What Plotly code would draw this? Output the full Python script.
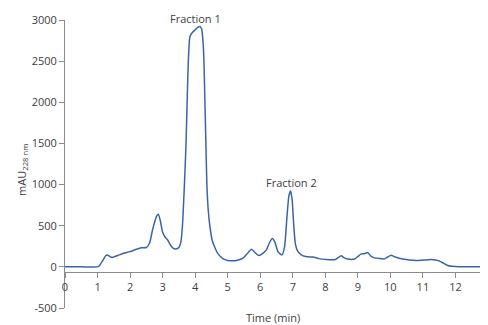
import plotly.graph_objects as go

time_min = [0, 0.5, 1.0, 1.05, 1.15, 1.25, 1.30, 1.38, 1.45, 1.6, 1.8, 2.0, 2.2, 2.35, 2.5,
            2.6, 2.68, 2.75, 2.82, 2.87, 2.93, 3.0, 3.08, 3.15, 3.25, 3.33, 3.40,
            3.50, 3.56, 3.61, 3.67, 3.72, 3.76, 3.79, 3.84, 3.92, 4.0, 4.08, 4.15, 4.20,
            4.24, 4.27, 4.30, 4.33, 4.36, 4.40, 4.45, 4.52, 4.59, 4.70, 4.85, 5.0, 5.15,
            5.3, 5.47, 5.6, 5.73, 5.85, 5.96, 6.08, 6.19, 6.28, 6.37, 6.45, 6.55, 6.67,
            6.75, 6.82, 6.88, 6.93, 6.98, 7.03, 7.08, 7.15, 7.25, 7.4, 7.55, 7.62, 7.8,
            8.03, 8.31, 8.4, 8.49, 8.58, 8.69, 8.9, 9.0, 9.1, 9.2, 9.3, 9.4, 9.51, 9.82,
            9.92, 10.02, 10.15, 10.38, 10.79, 11.05, 11.25, 11.5, 11.65, 11.76, 11.9,
            12.0, 12.2, 12.6, 13.0]
mau = [0, 0, 0, 10, 70, 135, 145, 125, 115, 135, 165, 185, 215, 232, 235,
       290, 430, 540, 620, 640, 560, 420, 360, 330, 260, 225, 218,
       235, 300, 500, 1000, 1500, 2100, 2500, 2800, 2850, 2880, 2910, 2920, 2890,
       2750, 2500, 2000, 1500, 1000, 700, 500, 330, 250, 160, 100, 78, 73,
       80, 105, 160, 215, 170, 137, 165, 206, 290, 344, 300, 180, 146,
       250, 600, 860, 923, 820, 500, 280, 190, 150, 125, 120, 120, 100,
       89, 89, 115, 134, 110, 95, 95, 125, 158, 160, 174, 130, 109, 97,
       120, 142, 120, 95, 77, 82, 89, 73, 40, 16, 6,
       3, 0, 0, 0]

x_ticks = list(range(0, 14))
y_ticks = [-500, 0, 500, 1000, 1500, 2000, 2500, 3000]

font_fam = "Open Sans, Lato, sans-serif"
txt_col = "#404040"
axis_col = "#8c8c8c"

fig = go.Figure()
fig.add_trace(go.Scatter(
    x=time_min, y=mau, mode="lines",
    line=dict(color="#3A64A8", width=1.5, shape="spline", smoothing=0.5),
    showlegend=False, hoverinfo="skip"))

# page body has an 8px default margin, so the figure is sized/positioned to compensate
fig.update_layout(
    width=480, height=317,
    margin=dict(l=57, r=0, t=12, b=17, autoexpand=False),
    paper_bgcolor="white", plot_bgcolor="white",
    font=dict(family=font_fam, size=11, color=txt_col),
    xaxis=dict(range=[0, 13], tickvals=x_ticks, ticktext=[str(v) for v in x_ticks],
               showgrid=False, zeroline=False, showline=True, linecolor=axis_col,
               linewidth=1, ticks="outside", ticklen=5, tickcolor=axis_col,
               anchor="free", position=(-57 + 500) / 3500, automargin=False,
               tickfont=dict(size=11, color=txt_col)),
    yaxis=dict(range=[-500, 3000], tickvals=y_ticks, ticktext=[str(v) for v in y_ticks],
               showgrid=False, zeroline=False, showline=True, linecolor=axis_col,
               linewidth=1, ticks="outside", ticklen=5, tickcolor=axis_col,
               automargin=False, tickfont=dict(size=11, color=txt_col)),
    annotations=[
        dict(x=4.0, y=1.0, xref="x", yref="paper", yanchor="middle", yshift=2,
             text="Fraction 1", showarrow=False, font=dict(size=11, color=txt_col)),
        dict(x=6.96, y=1028, xref="x", yref="y", yanchor="middle", text="Fraction 2",
             showarrow=False, font=dict(size=11, color=txt_col)),
        dict(x=6.4, y=0, xref="x", yref="paper", yanchor="middle", yshift=-9,
             text="Time (min)", showarrow=False, font=dict(size=11, color=txt_col)),
        dict(x=-0.102, y=0.479, xref="paper", yref="paper", xanchor="center",
             yanchor="middle", text="mAU<sub>228 nm</sub>", textangle=-90,
             showarrow=False, font=dict(size=11, color=txt_col)),
    ],
)

fig.write_html("out.html")
